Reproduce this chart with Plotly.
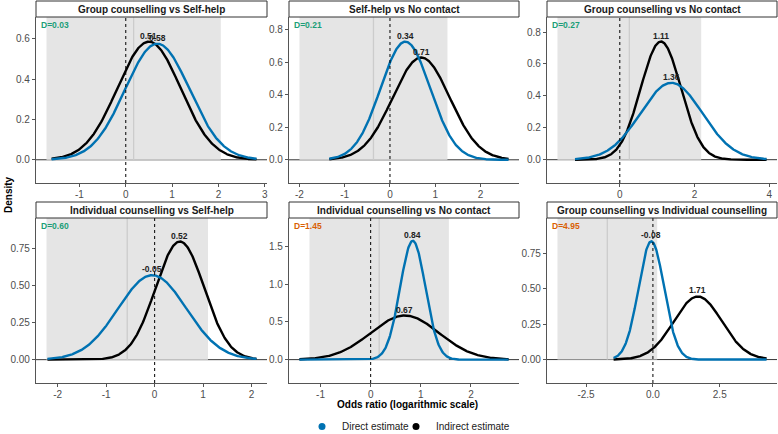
import numpy as np
import plotly.graph_objects as go

# panels, row by row
titles = [
    "Group counselling vs Self-help",
    "Self-help vs No contact",
    "Group counselling vs No contact",
    "Individual counselling vs Self-help",
    "Individual counselling vs No contact",
    "Group counselling vs Individual counselling",
]

# printed estimates (log odds ratio)
direct_est = [0.58, 0.34, 1.36, -0.05, 0.84, -0.08]
indirect_est = [0.51, 0.71, 1.11, 0.52, 0.67, 1.71]

# density curves: centre and spread
direct_mu = [0.68, 0.34, 1.38, -0.05, 0.84, -0.06]
direct_sd = [0.694, 0.548, 0.828, 0.702, 0.253, 0.479]
indirect_mu = [0.50, 0.69, 1.10, 0.52, 0.68, 1.68]
indirect_sd = [0.682, 0.633, 0.539, 0.502, 0.681, 0.898]
curve_lo = [-1.60, -1.34, -1.20, -2.21, -1.42, -1.47]
curve_hi = [2.82, 2.62, 3.93, 2.10, 2.75, 4.25]

# shaded interval
rect_lo = [-1.71, -2.00, -1.67, -2.23, -1.22, -3.57]
rect_hi = [2.05, 1.27, 2.18, 1.10, 1.56, 0.16]

d_values = [0.03, 0.21, 0.27, 0.60, 1.45, 4.95]

x_ticks = [[-1, 0, 1, 2, 3], [-2, -1, 0, 1, 2], [0, 2, 4],
           [-2, -1, 0, 1, 2], [-1, 0, 1, 2], [-2.5, 0.0, 2.5]]
x_ticktext = [["-1", "0", "1", "2", "3"], ["-2", "-1", "0", "1", "2"], ["0", "2", "4"],
              ["-2", "-1", "0", "1", "2"], ["-1", "0", "1", "2"], ["-2.5", "0.0", "2.5"]]
y_ticks = [[0, 0.2, 0.4, 0.6], [0, 0.2, 0.4, 0.6, 0.8], [0, 0.2, 0.4, 0.6, 0.8],
           [0, 0.25, 0.5, 0.75], [0, 0.5, 1.0, 1.5], [0, 0.25, 0.5, 0.75]]
y_ticktext = [["0.0", "0.2", "0.4", "0.6"], ["0.0", "0.2", "0.4", "0.6", "0.8"],
              ["0.0", "0.2", "0.4", "0.6", "0.8"], ["0.00", "0.25", "0.50", "0.75"],
              ["0.0", "0.5", "1.0", "1.5"], ["0.00", "0.25", "0.50", "0.75"]]
y_ranges = [(-0.115, 0.707), (-0.143, 0.88), (-0.146, 0.894),
            (-0.157, 0.953), (-0.31, 1.88), (-0.165, 0.997)]

BLUE = "#0072B2"
W = 778
H = 441  # a few px taller than the window so the legend can sit low; overflow is hidden
FONT = "Liberation Sans"

# pixel boxes of the panels (from the top-left)
col_px = [(36, 267), (289, 519), (547, 777)]
row_px = [(17, 183), (218, 383)]
strip_px = [(1, 17), (202, 218)]


def npdf(x, mu, sd):
    return np.exp(-0.5 * ((x - mu) / sd) ** 2) / (sd * np.sqrt(2 * np.pi))


fig = go.Figure()
shapes = []
annotations = []

for i in range(6):
    r, c = divmod(i, 3)
    n = "" if i == 0 else str(i + 1)
    xa, ya = "x" + n, "y" + n

    xs = np.linspace(curve_lo[i], curve_hi[i], 400)
    y_dir = npdf(xs, direct_mu[i], direct_sd[i])
    y_ind = npdf(xs, indirect_mu[i], indirect_sd[i])
    fig.add_trace(go.Scatter(x=xs, y=y_ind, mode="lines", line=dict(color="black", width=2.4),
                             xaxis=xa, yaxis=ya, showlegend=False, hoverinfo="skip"))
    fig.add_trace(go.Scatter(x=xs, y=y_dir, mode="lines", line=dict(color=BLUE, width=2.4),
                             xaxis=xa, yaxis=ya, showlegend=False, hoverinfo="skip"))

    # x range like ggplot: data span plus 5% each side
    lo = min(rect_lo[i], curve_lo[i])
    hi = max(rect_hi[i], curve_hi[i])
    pad = 0.05 * (hi - lo)
    x0p, x1p = col_px[c]
    y0p, y1p = row_px[r]
    fig.layout["xaxis" + n] = dict(
        domain=[x0p / W, x1p / W], anchor=ya, range=[lo - pad, hi + pad],
        tickvals=x_ticks[i], ticktext=x_ticktext[i],
        showline=True, linecolor="#555", linewidth=1.2, ticks="outside", ticklen=3,
        tickcolor="#555", showgrid=False, zeroline=False, ticklabelstandoff=-1,
        tickfont=dict(size=10, color="#4d4d4d", family=FONT),
    )
    fig.layout["yaxis" + n] = dict(
        domain=[1 - y1p / H, 1 - y0p / H], anchor=xa, range=list(y_ranges[i]),
        tickvals=y_ticks[i], ticktext=y_ticktext[i],
        showline=True, linecolor="#555", linewidth=1.2, ticks="outside", ticklen=3,
        tickcolor="#555", showgrid=False, zeroline=False,
        tickfont=dict(size=10, color="#4d4d4d", family=FONT),
    )

    top = y_ranges[i][1]
    mid = (rect_lo[i] + rect_hi[i]) / 2
    shapes += [
        dict(type="rect", xref=xa, yref=ya, x0=rect_lo[i], x1=rect_hi[i], y0=0, y1=top,
             fillcolor="#e5e5e5", line=dict(width=0), layer="below"),
        dict(type="line", xref=xa, yref=ya, x0=mid, x1=mid, y0=0, y1=top,
             line=dict(color="#cccccc", width=1.3), layer="below"),
        dict(type="line", xref=xa + " domain", yref=ya, x0=0, x1=1, y0=0, y1=0,
             line=dict(color="#333", width=1), layer="below"),
        dict(type="line", xref=xa, yref=ya + " domain", x0=0, x1=0, y0=0, y1=1,
             line=dict(color="black", width=1, dash="3px,3px")),
        # strip
        dict(type="rect", xref="paper", yref="paper", x0=x0p / W, x1=x1p / W,
             y0=1 - strip_px[r][1] / H, y1=1 - strip_px[r][0] / H,
             fillcolor="white", line=dict(color="#333", width=1)),
    ]
    annotations.append(dict(
        xref="paper", yref="paper", x=(x0p + x1p) / 2 / W,
        y=1 - (strip_px[r][0] + strip_px[r][1]) / 2 / H,
        text=titles[i], showarrow=False, xanchor="center", yanchor="middle",
        font=dict(size=10, family=FONT, color="#1a1a1a", weight="bold")))

    # peak labels
    for mu, sd, est in [(direct_mu[i], direct_sd[i], direct_est[i]),
                        (indirect_mu[i], indirect_sd[i], indirect_est[i])]:
        annotations.append(dict(
            xref=xa, yref=ya, x=mu, y=npdf(mu, mu, sd), text=f"{est:.2f}",
            showarrow=False, xanchor="center", yanchor="bottom", yshift=-1,
            font=dict(size=8.5, family=FONT, color="#222", weight="bold")))

    d_col = "#1b9e77" if d_values[i] < 1 else "#d95f02"
    annotations.append(dict(
        xref=xa + " domain", yref=ya + " domain", x=0.015, y=1, yshift=-1,
        text=f"D={d_values[i]:.2f}", showarrow=False, xanchor="left", yanchor="top",
        font=dict(size=8.5, family=FONT, color=d_col, weight="bold")))

annotations += [
    dict(xref="paper", yref="paper", x=8 / W, y=1 - 195 / H, text="Density", textangle=-90,
         showarrow=False, xanchor="center", yanchor="middle",
         font=dict(size=10, family=FONT, color="black", weight="bold")),
    dict(xref="paper", yref="paper", x=407 / W, y=1 - 404 / H, text="Odds ratio (logarithmic scale)",
         showarrow=False, xanchor="center", yanchor="middle",
         font=dict(size=10, family=FONT, color="black", weight="bold")),
]

# legend entries, one legend each so the two items sit close together
fig.add_trace(go.Scatter(x=[None], y=[None], mode="markers", name="Direct estimate",
                         marker=dict(color=BLUE, size=7), legend="legend"))
fig.add_trace(go.Scatter(x=[None], y=[None], mode="markers", name="Indirect estimate",
                         marker=dict(color="black", size=7), legend="legend2"))

leg_font = dict(size=10, color="#1a1a1a", family=FONT)
fig.update_layout(
    width=W, height=H,
    margin=dict(l=0, r=0, t=0, b=0),
    paper_bgcolor="white", plot_bgcolor="white",
    font=dict(family=FONT),
    shapes=shapes, annotations=annotations,
    legend=dict(orientation="h", x=302 / W, xanchor="left", y=0, yanchor="bottom",
                font=leg_font, itemwidth=30, bgcolor="rgba(0,0,0,0)"),
    legend2=dict(orientation="h", x=396 / W, xanchor="left", y=0, yanchor="bottom",
                 font=leg_font, itemwidth=30, bgcolor="rgba(0,0,0,0)"),
)

fig.write_html("out.html", config={"displayModeBar": False},
               post_script="document.body.style.margin='0px';document.body.style.overflow='hidden';")
